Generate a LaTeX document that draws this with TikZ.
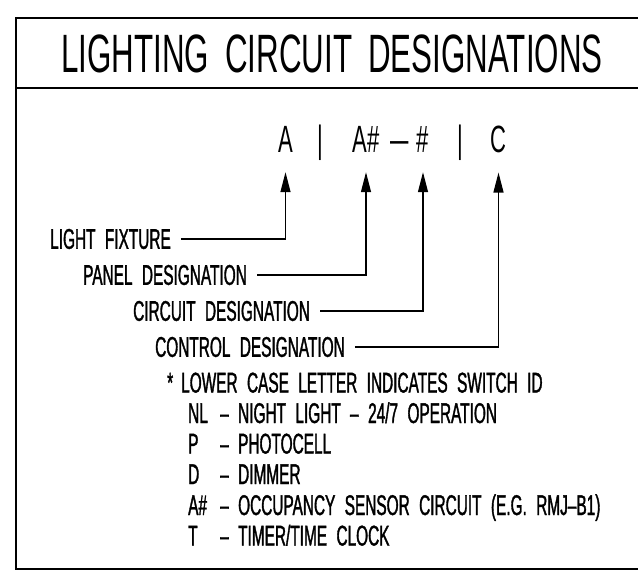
\documentclass[tikz,border=0pt]{standalone}
\usepackage{fontspec}
\setmainfont{Liberation Sans}[FakeStretch=0.58]
\newfontfamily\cadfont{Liberation Sans}[FakeStretch=0.54, FakeBold=1.2, WordSpace=2.2]
\usetikzlibrary{arrows.meta}

\begin{document}
\begin{tikzpicture}[
          x=1pt, y=-1pt,
          frame/.style={line width=1.6pt},
          head/.style={font=\fontsize{54}{54}\selectfont, inner sep=0pt},
          sym/.style={font=\fontsize{38}{38}\selectfont, inner sep=0pt, anchor=base},
          lbl/.style={font=\cadfont\fontsize{28.5}{28.5}\selectfont, inner sep=0pt, anchor=west},
          note/.style={font=\cadfont\fontsize{28.5}{28.5}\selectfont, inner sep=0pt, anchor=base west},
          arr/.style={-{Triangle[length=20pt,width=10pt]}, line width=1.3pt}
      ]
      \useasboundingbox (0,0) rectangle (638,578);
      \draw[frame] (640,18) -- (16,18) -- (16,569) -- (640,569);
      \draw[frame] (16,88) -- (640,88);
      \node[head] (title) at (332,54) {LIGHTING\hspace{16pt}CIRCUIT\hspace{16pt}DESIGNATIONS};
      \node[sym] (fA)    at (285.5,152) {A};
      \node[sym] (bara)  at (320,152)   {|};
      \node[sym] (fpnl)  at (366,152)   {A\#};
      \node[sym] (fdash) at (400,152)   {\scalebox{1.5}[1]{\textendash}};
      \node[sym] (fckt)  at (423,152)   {\#};
      \node[sym] (barb)  at (460,152)   {|};
      \node[sym] (fC)    at (498.5,152) {C};
      \node[lbl] (lfix)  at (50,239)  {LIGHT FIXTURE};
      \node[lbl] (lpnl)  at (83,275)  {PANEL DESIGNATION};
      \node[lbl] (lckt)  at (133,311) {CIRCUIT DESIGNATION};
      \node[lbl] (lctl)  at (155,347) {CONTROL DESIGNATION};
      \draw[arr] ([xshift=10pt]lfix.east) -| ([yshift=-20pt]fA.south);
      \draw[arr] ([xshift=10pt]lpnl.east) -| ([yshift=-20pt]fpnl.south);
      \draw[arr] ([xshift=10pt]lckt.east) -| ([yshift=-20pt]fckt.south);
      \draw[arr] ([xshift=10pt]lctl.east) -| ([yshift=-20pt]fC.south);
      \node[note] (star)  at (167,392.5) {*\hspace{8pt}LOWER CASE LETTER INDICATES SWITCH ID};
      \node[note] (cnl)   at (188,423)   {NL};
      \node[note] (dnl)   at (220,423)   {\textendash{} NIGHT LIGHT \textendash{} 24/7 OPERATION};
      \node[note] (cp)    at (188,453.5) {P};
      \node[note] (dp)    at (220,453.5) {\textendash{} PHOTOCELL};
      \node[note] (cd)    at (188,484)   {D};
      \node[note] (dd)    at (220,484)   {\textendash{} DIMMER};
      \node[note] (cocc)  at (188,515)   {A\#};
      \node[note] (docc)  at (220,515)   {\textendash{} OCCUPANCY SENSOR CIRCUIT (E.G. RMJ\textendash B1)};
      \node[note] (ct)    at (188,545.5) {T};
      \node[note] (dt)    at (220,545.5) {\textendash{} TIMER/TIME CLOCK};
      \end{tikzpicture}
\end{document}
